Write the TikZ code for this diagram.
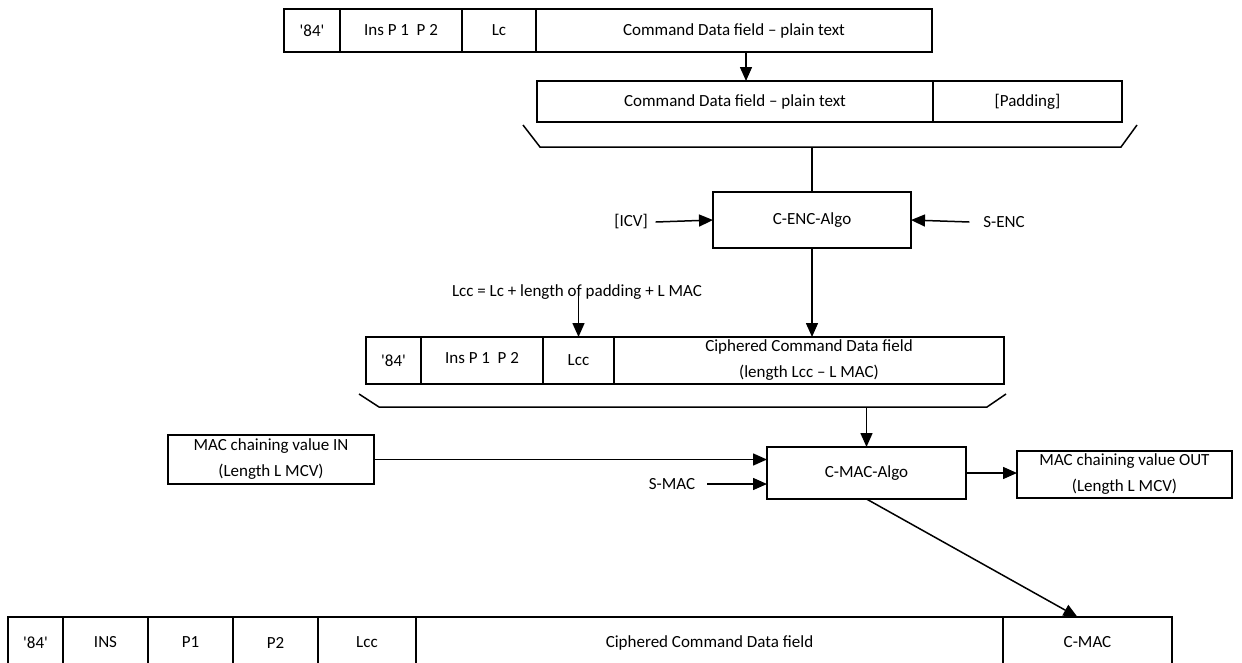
\documentclass[tikz,border=0pt]{standalone}
\usepackage{fontspec}
\setmainfont{Carlito}
\usetikzlibrary{arrows.meta,calc}
\tikzset{
  cell/.style={draw, line width=1.5pt, inner sep=0pt, outer sep=0pt, align=center, font=\fontsize{17}{26}\selectfont},
  thickcell/.style={cell, line width=2.3pt},
  lbl/.style={inner sep=0pt, outer sep=0pt, font=\fontsize{17}{26}\selectfont},
  conn/.style={line width=1.5pt},
  arr/.style={conn, -{Triangle[length=14pt,width=12pt]}},
  brack/.style={line width=1.5pt, line join=miter},
}
\newcommand{\mkcell}[7][cell]{\node[#1, minimum width={(#4-#3)*1pt}, minimum height={(#6-#5)*1pt}] (#2) at ({(#3+#4)/2},{(#5+#6)/2}) {#7};}
\newcommand{\qq}[1]{\textquotesingle#1\textquotesingle}
\begin{document}
\begin{tikzpicture}[x=1pt, y=-1pt]
\fill[white] (0,0) rectangle (1242,662);
\useasboundingbox (0,0) rectangle (1242,662);

% top row
\mkcell{t1}{284}{340}{9}{52}{\qq{84}}
\mkcell[thickcell]{t2}{340}{462}{9}{52}{\raisebox{2pt}{Ins P 1\ \ P 2}}
\mkcell{t3}{462}{536}{9}{52}{Lc}
\mkcell{t4}{536}{932}{9}{52}{Command Data field – plain text}

% padded row
\mkcell{p1}{537}{933}{81}{122}{Command Data field – plain text}
\mkcell{p2}{933}{1122}{81}{122}{[Padding]}
\coordinate (ax1) at (746,0);
\draw[arr] (t4.south -| ax1) -- (p1.north -| ax1);

% bracket 1
\draw[brack] (523,125) -- (540,147) -- (1121,147) -- (1137,125);
\coordinate (b1) at (812,147);

% C-ENC
\mkcell{enc}{713}{911}{192}{248}{C-ENC-Algo}
\draw[conn] (b1) -- (enc.north);
\node[lbl] (icv) at (631,222) {[ICV]};
\node[lbl] (senc) at (1004,222) {S-ENC};
\draw[arr] ([xshift=8pt]icv.east) -- (enc.west);
\draw[arr] ([xshift=-14pt]senc.west) -- (enc.east);

% Lcc row
\mkcell{l1}{366}{421}{337}{384}{\qq{84}}
\mkcell[thickcell]{l2}{421}{543}{337}{384}{\raisebox{5pt}{Ins P 1\ \ P 2}}
\mkcell{l3}{543}{614}{337}{384}{Lcc}
\mkcell{l4}{614}{1004}{337}{384}{Ciphered Command Data field\\(length Lcc – L MAC)}
\draw[arr] (enc.south) -- (enc.south |- l4.north);
\node[lbl] (lcclbl) at (577,292) {Lcc = Lc + length of padding + L MAC};
\draw[arr] ([yshift=5pt]lcclbl.south -| l3.north) -- (l3.north);

% bracket 2
\draw[brack] (359,394) -- (379,407) -- (987,407) -- (1006,394);
\coordinate (b2) at (866.5,407);

% MAC
\mkcell{mac}{767}{966}{447}{499}{C-MAC-Algo}
\draw[arr] (b2) -- (mac.north);
\mkcell{min}{168}{374}{435}{484}{MAC chaining value IN\\(Length L MCV)}
\mkcell{mout}{1017}{1232}{451}{498}{MAC chaining value OUT\\(Length L MCV)}
\draw[arr] (min.east) -- (min.east -| mac.west);
\node[lbl] (smac) at (672,484) {S-MAC};
\draw[arr] ([xshift=12pt]smac.east) -- (smac.east -| mac.west);
\draw[arr] (mac.east) -- (mac.east -| mout.west);

% bottom row
\mkcell{r1}{8}{63}{617}{668}{\qq{84}}
\mkcell{r2}{63}{148}{617}{668}{INS}
\mkcell{r3}{148}{233}{617}{668}{P1}
\mkcell{r4}{233}{318}{617}{668}{P2}
\mkcell{r5}{318}{416}{617}{668}{Lcc}
\mkcell{r6}{416}{1003}{617}{668}{Ciphered Command Data field}
\mkcell{r7}{1003}{1172}{617}{668}{C-MAC}
\draw[arr] (mac.south) -- ([xshift=-10pt]r7.north);
\end{tikzpicture}
\end{document}
